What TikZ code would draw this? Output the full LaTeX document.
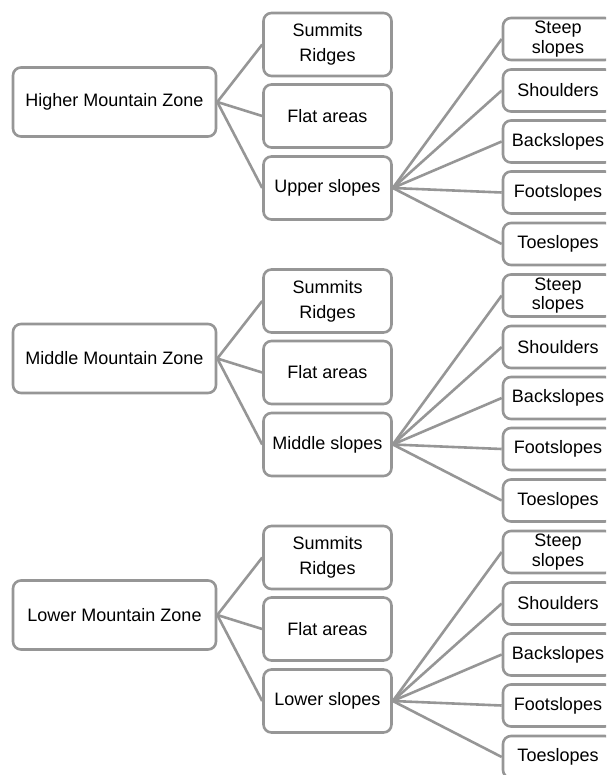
\documentclass[tikz,border=0pt]{standalone}
\usepackage{fontspec}
\setmainfont{Liberation Sans}
\definecolor{linegray}{RGB}{150,150,150}
\begin{document}
\begin{tikzpicture}[x=1pt,y=-1pt,
  box/.style={draw=linegray, line width=2.6pt, rounded corners=8pt, fill=white,
    align=center, inner sep=0pt, text=black, font=\fontsize{18}{25}\selectfont},
  zonebox/.style={box, minimum width=203pt, minimum height=69pt},
  midbox/.style={box, minimum width=128pt, minimum height=63pt},
  rbox/.style={box, minimum width=110pt, minimum height=42pt, font=\fontsize{18}{19.5}\selectfont},
  link/.style={draw=linegray, line width=2.6pt}]
\useasboundingbox (0,0) rectangle (606,775);
\clip (0,0) rectangle (606,775);
\foreach \g/\off/\zn/\sl in {h/0/Higher/Upper, m/256.5/Middle/Middle, l/513/Lower/Lower}{
  \node[zonebox] (zone\g) at (114.5,102+\off) {\zn{} Mountain Zone};
  \node[midbox] (sr\g) at (327.5,44.5+\off) {Summits\\Ridges};
  \node[midbox] (fa\g) at (327.5,116+\off) {Flat areas};
  \node[midbox] (sl\g) at (327.5,188+\off) {\sl{} slopes};
  \node[rbox] (st\g) at (558,39+\off) {Steep\\slopes};
  \node[rbox] (sh\g) at (558,90.5+\off) {Shoulders};
  \node[rbox] (bs\g) at (558,141.5+\off) {Backslopes};
  \node[rbox] (fs\g) at (558,192.5+\off) {Footslopes};
  \node[rbox] (ts\g) at (558,244+\off) {Toeslopes};
  \draw[link] (zone\g.east) -- (sr\g.west);
  \draw[link] (zone\g.east) -- (fa\g.west);
  \draw[link] (zone\g.east) -- (sl\g.west);
  \draw[link] (sl\g.east) -- (st\g.west);
  \draw[link] (sl\g.east) -- (sh\g.west);
  \draw[link] (sl\g.east) -- (bs\g.west);
  \draw[link] (sl\g.east) -- (fs\g.west);
  \draw[link] (sl\g.east) -- (ts\g.west);
}
\end{tikzpicture}
\end{document}
